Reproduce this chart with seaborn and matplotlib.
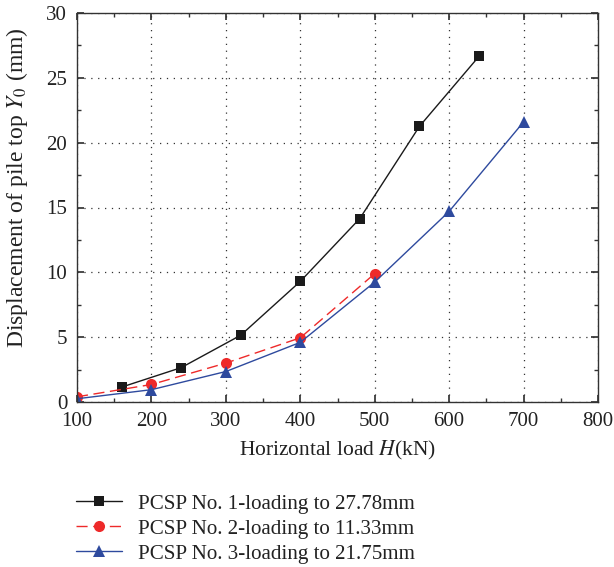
import matplotlib
matplotlib.use("Agg")
import matplotlib.pyplot as plt
import seaborn as sns
import pandas as pd
from matplotlib.ticker import MultipleLocator

x1 = [160, 240, 320, 400, 480, 560, 640]
y1 = [1.15, 2.65, 5.15, 9.3, 14.15, 21.25, 26.65]
x2 = [100, 200, 300, 400, 500]
y2 = [0.4, 1.35, 3.0, 4.95, 9.9]
x3 = [100, 200, 300, 400, 500, 600, 700]
y3 = [0.25, 0.95, 2.35, 4.6, 9.25, 14.7, 21.6]
labels = ["PCSP No. 1-loading to 27.78mm",
          "PCSP No. 2-loading to 11.33mm",
          "PCSP No. 3-loading to 21.75mm"]

sns.set_theme(style="ticks")
plt.rcParams['font.family'] = ['Liberation Serif', 'DejaVu Serif']
plt.rcParams['mathtext.fontset'] = 'stix'

W, H = 614, 567
fig = plt.figure(figsize=(W / 100, H / 100), dpi=100)
ax = fig.add_axes([77 / W, 1 - 402 / H, 521 / W, 389 / H])

d1 = pd.DataFrame({"x": x1, "y": y1})
d2 = pd.DataFrame({"x": x2, "y": y2})
d3 = pd.DataFrame({"x": x3, "y": y3})
sns.lineplot(data=d1, x="x", y="y", ax=ax, color="#1a1a1a", lw=1.0, marker="s",
             markersize=7, markeredgewidth=0, label=labels[0])
sns.lineplot(data=d2, x="x", y="y", ax=ax, color="#ee2a2a", lw=1.0, marker="o",
             markersize=8, markeredgewidth=0, label=labels[1])
ax.lines[-1].set_dashes((8, 4))
sns.lineplot(data=d3, x="x", y="y", ax=ax, color="#2e4a9e", lw=1.0, marker="^",
             markersize=9, markeredgewidth=0, label=labels[2])

ax.set_xlim(100, 800)
ax.set_ylim(0, 30)
ax.xaxis.set_major_locator(MultipleLocator(100))
ax.xaxis.set_minor_locator(MultipleLocator(50))
ax.yaxis.set_major_locator(MultipleLocator(5))
ax.yaxis.set_minor_locator(MultipleLocator(2.5))
ax.tick_params(which="both", direction="in", top=True, right=True, labelsize=15,
               colors="#333333", labelcolor="#222222")
ax.tick_params(which="major", length=5, pad=7)
ax.tick_params(which="minor", length=3)
ax.grid(True, which="major", color="#333333", linestyle=(0, (1, 4.5)), lw=0.9)
for s in ax.spines.values():
    s.set_color("#333333")
    s.set_linewidth(1.0)
ax.set_xlabel("Horizontal load $H$(kN)", fontsize=15.5, labelpad=6, color="#222222")
ax.set_ylabel("Displacement of pile top $Y_0$ (mm)", fontsize=17, color="#222222")
ax.yaxis.set_label_coords(-0.09, (402 - 188) / 389)

leg = ax.legend(loc="upper left", bbox_to_anchor=(76 / W, 1 - 494 / H),
                bbox_transform=fig.transFigure, frameon=False, borderpad=0,
                borderaxespad=0, fontsize=15.1, handlelength=2.2,
                labelspacing=0.25, handletextpad=0.75)
for t in leg.get_texts():
    t.set_color("#222222")

fig.savefig("out.png", dpi=100)
